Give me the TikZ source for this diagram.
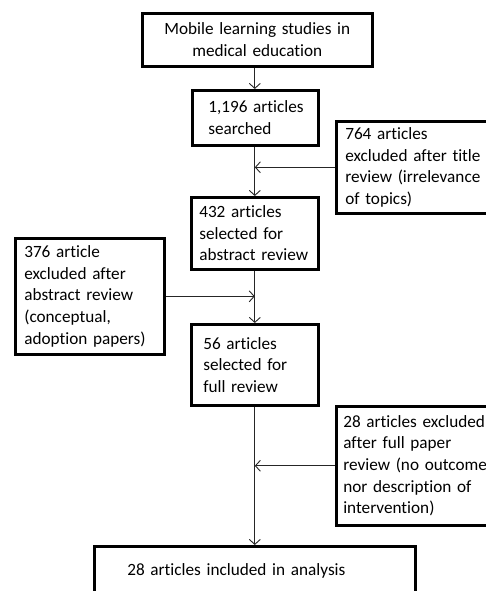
\documentclass[tikz,border=0pt]{standalone}
\usepackage{fontspec}
\setmainfont{Carlito}[Ligatures=NoCommon]
\usetikzlibrary{arrows.meta}
\newcommand\Ln[1]{\mbox{#1}}
\begin{document}
\begin{tikzpicture}[x=1pt,y=-1pt,
  box/.style={draw=black, line width=2.6pt, align=left, inner ysep=0pt,
    font=\fontsize{17.2}{21.7}\selectfont, anchor=north west},
  conn/.style={draw=black!85, line width=0.9pt, -{Straight Barb[length=5pt,width=11pt]}}]
\useasboundingbox (0,0) rectangle (486,591);
\clip (0,0) rectangle (486,591);

\node[box, align=center, text width=210pt, inner xsep=10pt, minimum height=53pt] (b1) at (141,12)
  {\Ln{Mobile learning studies in}\\\Ln{medical education}};
\node[box, text width=94pt, inner xsep=16pt, minimum height=55pt] (b2) at (191,89)
  {\Ln{1,196 articles}\\\Ln{searched}};
\node[box, text width=182pt, inner xsep=9pt, minimum height=92pt] (b3) at (335,120)
  {\Ln{764 articles}\\\Ln{excluded after title}\\\Ln{review (irrelevance}\\\Ln{of topics)}};
\node[box, text width=111pt, inner xsep=8pt, minimum height=72pt] (b4) at (190,196)
  {\Ln{432 articles}\\\Ln{selected for}\\\Ln{abstract review}};
\node[box, text width=131pt, inner xsep=9pt, minimum height=116pt] (b5) at (14,237)
  {\Ln{376 article}\\\Ln{excluded after}\\\Ln{abstract review}\\\Ln{(conceptual,}\\\Ln{adoption papers)}};
\node[box, text width=103pt, inner xsep=12pt, minimum height=81pt] (b6) at (190,323)
  {\Ln{56 articles}\\\Ln{selected for}\\\Ln{full review}};
\node[box, text width=186pt, inner xsep=7pt, minimum height=119pt] (b7) at (335,405)
  {\Ln{28 articles excluded}\\\Ln{after full paper}\\\Ln{review (no outcome}\\\Ln{nor description of}\\\Ln{intervention)}};
\node[box, text width=255pt, inner xsep=33pt, minimum height=50pt] (b8) at (93,545)
  {\Ln{28 articles included in analysis}};

\draw[conn] (b1.south -| b4.north) -- (b4.north |- b2.north);
\draw[conn] (b4.north |- b2.south) -- (b4.north);
\coordinate (j1) at (b4.north |- b3.west);
\draw[conn] (b3.west) -- (j1);
\draw[conn] (b4.south) -- (b6.north);
\coordinate (j2) at (b4.south |- b5.east);
\draw[conn] (b5.east) -- (j2);
\draw[conn] (b6.south) -- (b6.south |- b8.north);
\coordinate (j3) at (b6.south |- b7.west);
\draw[conn] (b7.west) -- (j3);
\end{tikzpicture}
\end{document}
